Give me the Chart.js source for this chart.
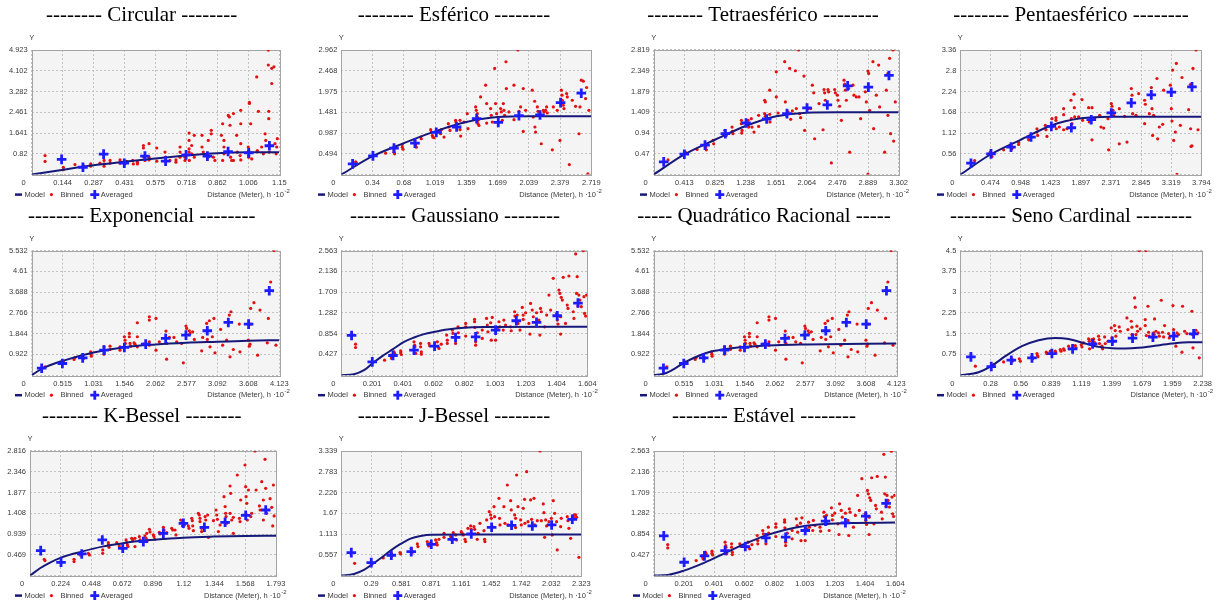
<!DOCTYPE html>
<html>
<head>
<meta charset="utf-8">
<script src="https://cdn.jsdelivr.net/npm/chart.js@4.4.1/dist/chart.umd.min.js"></script>
<style>
html, body { margin: 0; padding: 0; background: #fff; }
#page { position: relative; width: 1216px; height: 606px; overflow: hidden; }
#page canvas { position: absolute; }
</style>
</head>
<body>
<div id="page"></div>
<script>
// ---- data: [distance, gamma] ----

const circularXTicks = ['0','0.144','0.287','0.431','0.575','0.718','0.862','1.006','1.15']
const circularYTicks = ['0','0.82','1.641','2.461','3.282','4.102','4.923']
const circularAveraged = [[0.139,0.60],[0.238,0.29],[0.334,0.81],[0.430,0.45],[0.526,0.73],[0.622,0.53],[0.717,0.78],[0.816,0.73],[0.912,0.91],[1.008,0.86],[1.104,1.14]]
const circularModel = [[0,0],[0.139,0.185],[0.286,0.371],[0.429,0.503],[0.573,0.635],[0.717,0.754],[0.862,0.847],[1.006,0.887],[1.15,0.887]]
const circularBinned = [[0.062,0.75],[0.062,0.52],[0.147,0.29],[0.147,0.20],[0.201,0.40],[0.240,0.36],[0.240,0.29],[0.274,0.42],[0.274,0.33],[0.317,0.45],[0.336,0.56],[0.336,0.42],[0.336,0.33],[0.364,0.56],[0.364,0.45],[0.410,0.58],[0.410,0.45],[0.433,0.42],[0.441,0.52],[0.469,0.56],[0.472,0.42],[0.491,0.49],[0.491,0.42],[0.519,1.15],[0.519,1.05],[0.522,0.69],[0.526,0.56],[0.545,1.22],[0.545,0.69],[0.545,0.58],[0.581,1.05],[0.581,0.53],[0.619,0.89],[0.622,0.69],[0.622,0.56],[0.642,0.56],[0.670,0.58],[0.670,0.49],[0.689,1.09],[0.689,0.89],[0.689,0.69],[0.712,0.69],[0.712,0.56],[0.731,1.64],[0.731,1.35],[0.731,1.02],[0.731,0.89],[0.732,0.56],[0.743,1.15],[0.743,0.82],[0.755,1.55],[0.755,0.69],[0.791,1.09],[0.791,1.55],[0.797,0.89],[0.820,1.35],[0.820,0.69],[0.834,1.75],[0.834,1.61],[0.844,0.69],[0.851,0.56],[0.881,1.55],[0.887,2.01],[0.893,1.35],[0.893,1.09],[0.893,0.82],[0.887,0.56],[0.913,2.34],[0.918,2.28],[0.921,1.95],[0.924,0.69],[0.929,0.56],[0.937,2.41],[0.937,0.56],[0.952,1.55],[0.955,0.89],[0.971,2.54],[0.971,2.01],[0.971,1.22],[0.968,0.75],[0.971,0.58],[1.006,1.09],[1.008,0.95],[1.008,0.75],[1.008,0.69],[1.011,2.85],[1.011,2.81],[1.017,2.01],[1.022,0.62],[1.045,3.86],[1.053,2.50],[1.048,0.95],[1.068,1.09],[1.076,0.82],[1.084,1.61],[1.087,1.35],[1.099,4.92],[1.099,4.33],[1.101,2.50],[1.101,2.21],[1.104,0.89],[1.115,3.60],[1.115,4.20],[1.125,4.26],[1.130,1.22],[1.135,0.82],[1.138,1.09],[1.141,1.42]]

const esfericoXTicks = ['0','0.34','0.68','1.019','1.359','1.699','2.039','2.379','2.719']
const esfericoYTicks = ['0','0.494','0.987','1.481','1.975','2.468','2.962']
const esfericoAveraged = [[0.123,0.255],[0.344,0.446],[0.573,0.629],[0.801,0.748],[1.033,1.003],[1.254,1.131],[1.472,1.330],[1.707,1.242],[1.932,1.401],[2.161,1.417],[2.385,1.712],[2.610,1.935]]
const esfericoModel = [[0,0],[0.34,0.438],[0.68,0.748],[1.019,1.027],[1.359,1.250],[1.699,1.369],[2.039,1.385],[2.719,1.385]]
const esfericoBinned = [[0.156,0.303],[0.163,0.279],[0.482,0.510],[0.573,0.589],[0.573,0.533],[0.580,0.494],[0.663,0.717],[0.663,0.653],[0.671,0.605],[0.801,0.812],[0.808,0.717],[0.816,0.653],[0.863,0.892],[0.870,0.852],[0.972,1.067],[0.979,1.011],[0.990,0.932],[0.995,0.892],[1.008,0.876],[1.080,1.011],[1.080,0.971],[1.088,1.067],[1.117,0.892],[1.164,1.210],[1.171,1.131],[1.182,1.051],[1.243,1.290],[1.247,1.250],[1.254,1.194],[1.291,1.290],[1.291,1.067],[1.298,0.916],[1.334,1.250],[1.370,1.449],[1.378,1.091],[1.461,1.608],[1.468,1.529],[1.479,1.449],[1.479,1.369],[1.486,1.290],[1.486,1.210],[1.497,1.170],[1.515,1.847],[1.570,2.126],[1.581,1.688],[1.581,1.226],[1.624,1.569],[1.631,1.409],[1.642,1.250],[1.668,2.524],[1.678,1.688],[1.689,1.449],[1.733,1.569],[1.740,1.489],[1.751,1.290],[1.762,1.688],[1.769,1.529],[1.776,1.409],[1.791,2.683],[1.795,2.046],[1.823,1.489],[1.878,2.126],[1.878,1.306],[1.921,2.962],[1.932,1.505],[1.950,1.608],[1.979,2.046],[1.979,1.027],[2.005,1.529],[2.077,2.006],[2.088,1.369],[2.103,1.744],[2.106,1.131],[2.113,1.011],[2.132,1.608],[2.139,1.505],[2.150,1.433],[2.175,0.733],[2.197,1.529],[2.204,1.489],[2.222,1.529],[2.233,1.608],[2.240,1.465],[2.295,0.589],[2.306,1.608],[2.349,1.529],[2.378,0.812],[2.393,2.006],[2.400,1.887],[2.403,1.768],[2.414,1.648],[2.422,1.569],[2.451,1.927],[2.458,1.847],[2.480,0.239],[2.512,1.768],[2.548,1.624],[2.585,0.971],[2.596,1.608],[2.610,2.245],[2.632,2.221],[2.657,1.807],[2.668,2.070],[2.682,0.02],[2.693,1.529]]

const tetraXTicks = ['0','0.413','0.825','1.238','1.651','2.064','2.476','2.889','3.302']
const tetraYTicks = ['0','0.47','0.94','1.409','1.879','2.349','2.819']
const tetraAveraged = [[0.135,0.288],[0.413,0.462],[0.692,0.667],[0.966,0.925],[1.245,1.167],[1.523,1.258],[1.797,1.379],[2.067,1.508],[2.341,1.576],[2.615,2.008],[2.894,1.978],[3.172,2.243]]
const tetraModel = [[0,0],[0.413,0.455],[0.826,0.788],[1.240,1.099],[1.653,1.319],[2.062,1.402],[2.476,1.410],[3.302,1.410]]
const tetraBinned = [[0.193,0.333],[0.427,0.508],[0.584,0.568],[0.701,0.621],[0.710,0.561],[0.800,0.773],[0.809,0.697],[0.957,1.000],[0.966,0.955],[0.979,0.887],[1.056,1.076],[1.060,0.978],[1.069,0.925],[1.182,1.228],[1.182,1.152],[1.191,1.000],[1.186,0.940],[1.272,1.228],[1.272,1.152],[1.281,1.076],[1.316,1.266],[1.325,1.076],[1.352,0.962],[1.415,1.341],[1.415,1.091],[1.496,1.682],[1.505,1.644],[1.496,1.379],[1.505,1.319],[1.564,1.910],[1.564,1.364],[1.568,1.190],[1.653,2.326],[1.653,1.758],[1.676,1.394],[1.766,2.554],[1.775,1.644],[1.788,1.341],[1.811,1.417],[1.833,2.402],[1.847,1.250],[1.869,1.440],[1.910,2.349],[1.923,1.493],[1.954,2.819],[1.968,1.379],[1.981,1.288],[2.026,2.228],[2.035,1.000],[2.080,1.493],[2.116,1.493],[2.139,2.023],[2.157,1.849],[2.170,0.811],[2.229,1.607],[2.283,1.015],[2.296,1.925],[2.305,1.849],[2.314,1.682],[2.350,1.925],[2.359,1.872],[2.395,0.265],[2.440,1.925],[2.449,1.849],[2.476,1.796],[2.485,1.682],[2.507,1.546],[2.530,1.228],[2.566,2.137],[2.575,2.046],[2.584,1.910],[2.597,1.682],[2.629,1.948],[2.642,0.508],[2.687,2.023],[2.700,1.796],[2.732,1.758],[2.768,1.758],[2.790,1.266],[2.853,1.872],[2.867,1.644],[2.889,2.342],[2.898,2.289],[2.911,1.455],[2.889,0.01],[2.956,2.554],[2.965,1.038],[3.001,1.796],[3.033,2.478],[3.046,1.531],[3.114,0.508],[3.136,1.910],[3.158,2.289],[3.158,1.341],[3.181,2.630],[3.194,0.925],[3.226,2.819],[3.235,0.758],[3.257,1.644]]

const pentaXTicks = ['0','0.474','0.948','1.423','1.897','2.371','2.845','3.319','3.794']
const pentaYTicks = ['0','0.56','1.12','1.68','2.24','2.8','3.36']
const pentaAveraged = [[0.168,0.307],[0.483,0.560],[0.798,0.741],[1.113,1.012],[1.433,1.301],[1.748,1.264],[2.062,1.481],[2.377,1.662],[2.692,1.933],[3.007,2.150],[3.322,2.222],[3.647,2.366]]
const pentaModel = [[0,0],[0.474,0.542],[0.948,0.939],[1.423,1.319],[1.897,1.517],[2.371,1.563],[3.794,1.563]]
const pentaBinned = [[0.226,0.379],[0.472,0.605],[0.499,0.488],[0.682,0.668],[0.798,0.786],[0.813,0.695],[0.918,0.876],[0.918,0.813],[1.065,1.012],[1.076,0.939],[1.207,1.237],[1.207,1.147],[1.218,1.057],[1.338,1.328],[1.349,1.210],[1.364,1.030],[1.443,1.508],[1.443,1.283],[1.506,1.535],[1.506,1.463],[1.511,1.237],[1.559,1.283],[1.627,1.779],[1.627,1.617],[1.627,1.210],[1.679,1.237],[1.742,2.005],[1.748,1.508],[1.758,1.373],[1.790,2.168],[1.795,1.806],[1.800,1.554],[1.863,1.554],[1.916,2.023],[1.926,1.463],[2.020,1.806],[2.031,1.418],[2.073,1.806],[2.073,0.939],[2.115,1.508],[2.194,1.599],[2.215,1.283],[2.257,1.255],[2.325,1.508],[2.335,0.668],[2.377,1.915],[2.388,1.843],[2.404,1.734],[2.414,1.599],[2.503,1.779],[2.503,0.831],[2.587,1.572],[2.624,0.876],[2.692,2.321],[2.703,2.141],[2.713,1.644],[2.766,1.599],[2.808,2.186],[2.902,2.005],[2.913,1.897],[2.902,1.373],[2.976,1.644],[3.007,2.348],[3.018,1.779],[3.028,1.057],[3.044,1.599],[3.096,2.592],[3.107,0.966],[3.133,1.283],[3.186,1.355],[3.201,2.276],[3.306,2.412],[3.322,1.779],[3.332,1.445],[3.343,2.818],[3.359,0.921],[3.385,1.147],[3.401,2.999],[3.411,0.01],[3.464,1.328],[3.490,2.619],[3.595,1.752],[3.621,2.430],[3.626,1.237],[3.632,0.759],[3.647,0.777],[3.663,2.863],[3.710,3.360],[3.742,1.210]]

// Exponencial and Quadrático Racional share the same empirical points
const expXTicks = ['0','0.515','1.031','1.546','2.062','2.577','3.092','3.608','4.123']
const expYTicks = ['0','0.922','1.844','2.766','3.688','4.61','5.532']
const expAveraged = [[0.166,0.311],[0.511,0.519],[0.849,0.771],[1.204,1.112],[1.543,1.231],[1.898,1.379],[2.231,1.631],[2.569,1.780],[2.924,1.973],[3.274,2.343],[3.612,2.269],[3.956,3.752]]
const expModel = [[0,0],[0.166,0.282],[0.515,0.638],[1.031,1.009],[1.546,1.246],[2.062,1.364],[2.577,1.439],[3.092,1.483],[3.608,1.528],[4.123,1.557]]
const quadModel = [[0,0],[0.187,0.074],[0.357,0.297],[0.515,0.549],[0.697,0.786],[0.866,0.964],[1.036,1.083],[1.291,1.186],[1.557,1.261],[2.073,1.335],[2.588,1.364],[3.613,1.394],[4.123,1.409]]
const expBinned = [[0.222,0.371],[0.527,0.593],[0.538,0.519],[0.705,0.697],[0.721,0.786],[0.849,0.845],[0.860,0.727],[0.982,1.038],[0.988,0.934],[0.993,0.845],[1.204,1.261],[1.204,0.934],[1.210,0.994],[1.304,1.290],[1.304,1.142],[1.470,1.261],[1.470,1.112],[1.543,1.706],[1.554,1.557],[1.559,1.409],[1.626,1.854],[1.626,1.706],[1.637,1.409],[1.648,1.290],[1.704,1.439],[1.720,1.379],[1.759,2.328],[1.759,1.706],[1.759,1.261],[1.859,1.379],[1.959,2.595],[1.959,2.447],[1.959,1.483],[1.959,1.335],[2.070,2.521],[2.070,1.112],[2.125,1.483],[2.236,1.958],[2.247,1.409],[2.247,0.712],[2.292,1.676],[2.369,1.676],[2.414,1.483],[2.497,1.409],[2.525,0.549],[2.569,2.180],[2.580,2.076],[2.625,1.973],[2.636,1.854],[2.680,1.928],[2.708,1.587],[2.830,1.083],[2.847,1.676],[2.913,2.299],[2.924,1.587],[2.958,2.417],[2.969,1.261],[3.008,1.706],[3.035,2.521],[3.052,0.994],[3.146,2.032],[3.180,1.335],[3.246,1.557],[3.291,2.670],[3.302,0.816],[3.318,2.818],[3.357,1.142],[3.457,2.269],[3.468,1.038],[3.607,1.557],[3.623,1.290],[3.635,1.379],[3.646,2.966],[3.651,2.269],[3.701,3.218],[3.762,0.890],[3.801,2.892],[3.940,2.521],[3.923,1.439],[3.979,4.138],[4.034,5.532],[4.067,1.335]]

// Gaussiano and Estável share the same empirical points
const gaussXTicks = ['0','0.201','0.401','0.602','0.802','1.003','1.203','1.404','1.604']
const gaussYTicks = ['0','0.427','0.854','1.282','1.709','2.136','2.563']
const gaussAveraged = [[0.067,0.818],[0.202,0.275],[0.337,0.405],[0.474,0.515],[0.608,0.598],[0.745,0.776],[0.876,0.790],[1.006,0.928],[1.141,1.120],[1.273,1.086],[1.408,1.223],[1.543,1.484]]
const gaussModel = [[0,0],[0.083,0.021],[0.148,0.103],[0.202,0.240],[0.267,0.392],[0.337,0.536],[0.409,0.687],[0.474,0.776],[0.539,0.845],[0.608,0.893],[0.691,0.941],[0.800,0.976],[0.930,0.989],[1.604,0.996]]
const estavelModel = [[0,0],[0.095,0.014],[0.201,0.103],[0.338,0.267],[0.471,0.459],[0.604,0.651],[0.737,0.816],[0.869,0.939],[1.002,1.021],[1.135,1.062],[1.290,1.083],[1.604,1.090]]
const gaussBinned = [[0.093,0.639],[0.093,0.570],[0.282,0.309],[0.322,0.412],[0.326,0.378],[0.328,0.344],[0.343,0.481],[0.348,0.447],[0.387,0.502],[0.387,0.460],[0.391,0.426],[0.474,0.687],[0.478,0.618],[0.480,0.584],[0.485,0.447],[0.517,0.653],[0.517,0.584],[0.522,0.481],[0.522,0.433],[0.572,0.653],[0.576,0.605],[0.626,0.687],[0.630,0.584],[0.637,0.550],[0.652,0.639],[0.687,0.825],[0.691,0.721],[0.691,0.653],[0.724,0.928],[0.728,0.859],[0.745,0.653],[0.761,0.996],[0.763,0.873],[0.811,1.065],[0.811,0.996],[0.811,0.804],[0.869,1.147],[0.869,1.099],[0.871,0.983],[0.876,0.687],[0.876,0.618],[0.887,0.873],[0.919,0.928],[0.919,0.756],[0.947,1.168],[0.952,1.031],[0.956,0.893],[0.974,1.079],[0.978,0.721],[0.984,1.189],[1.006,0.721],[1.017,0.962],[1.028,1.099],[1.034,0.996],[1.060,1.134],[1.056,0.928],[1.071,1.031],[1.104,0.996],[1.108,0.914],[1.130,1.305],[1.132,1.216],[1.147,1.237],[1.152,1.065],[1.165,0.928],[1.180,1.395],[1.186,1.237],[1.186,1.147],[1.202,1.285],[1.223,1.065],[1.230,0.845],[1.234,1.477],[1.245,1.340],[1.252,1.202],[1.273,1.285],[1.289,1.134],[1.295,0.825],[1.299,1.374],[1.304,1.305],[1.326,0.996],[1.339,1.237],[1.354,1.649],[1.365,1.340],[1.382,1.993],[1.404,1.271],[1.408,1.134],[1.413,1.051],[1.419,1.752],[1.425,1.683],[1.430,1.202],[1.430,0.845],[1.434,1.601],[1.441,1.546],[1.447,2.013],[1.462,1.065],[1.473,1.443],[1.478,1.374],[1.484,2.041],[1.512,1.305],[1.517,1.168],[1.528,2.494],[1.534,1.683],[1.538,2.027],[1.543,1.422],[1.549,1.649],[1.556,1.546],[1.565,1.409],[1.578,2.56],[1.582,1.615],[1.586,1.271],[1.593,1.216],[1.599,1.649]]

const senoXTicks = ['0','0.28','0.56','0.839','1.119','1.399','1.679','1.959','2.238']
const senoYTicks = ['0','0.75','1.5','2.25','3','3.75','4.5']
const senoAveraged = [[0.098,0.662],[0.286,0.313],[0.471,0.541],[0.662,0.626],[0.846,0.782],[1.037,0.951],[1.222,1.131],[1.404,1.227],[1.591,1.336],[1.779,1.372],[1.970,1.408],[2.155,1.492]]
const senoModel = [[0,0],[0.169,0.108],[0.286,0.325],[0.416,0.686],[0.569,1.047],[0.723,1.263],[0.877,1.348],[1.000,1.311],[1.154,1.143],[1.277,1.023],[1.400,0.975],[1.524,0.963],[1.647,0.987],[1.770,1.047],[1.955,1.143],[2.108,1.191],[2.238,1.191]]
const senoBinned = [[0.139,0.325],[0.308,0.385],[0.400,0.481],[0.477,0.590],[0.483,0.517],[0.545,0.590],[0.554,0.505],[0.662,0.686],[0.668,0.590],[0.708,0.782],[0.714,0.710],[0.717,0.662],[0.794,0.830],[0.800,0.782],[0.831,0.866],[0.840,0.806],[0.877,0.866],[0.883,0.806],[0.923,0.926],[0.930,0.866],[0.954,0.951],[0.960,0.902],[1.000,1.047],[1.006,0.951],[1.062,1.071],[1.068,0.987],[1.117,1.107],[1.123,1.023],[1.139,1.167],[1.185,1.311],[1.191,1.227],[1.194,0.951],[1.216,1.287],[1.231,1.311],[1.237,1.191],[1.277,1.408],[1.283,1.287],[1.286,1.143],[1.308,1.047],[1.314,0.951],[1.333,1.384],[1.339,1.143],[1.364,1.227],[1.394,1.709],[1.400,1.348],[1.407,1.191],[1.425,1.793],[1.431,1.612],[1.437,1.408],[1.468,1.745],[1.477,1.588],[1.539,2.070],[1.548,1.648],[1.579,1.949],[1.585,1.733],[1.585,1.468],[1.610,2.791],[1.616,2.455],[1.622,1.468],[1.631,1.769],[1.637,1.588],[1.653,4.5],[1.662,1.672],[1.708,2.009],[1.708,1.793],[1.714,4.5],[1.718,1.432],[1.733,2.491],[1.739,1.552],[1.745,1.408],[1.785,1.528],[1.791,1.468],[1.794,2.033],[1.807,1.588],[1.831,1.528],[1.838,1.408],[1.856,2.707],[1.868,1.552],[1.878,1.384],[1.887,1.793],[1.924,1.504],[1.930,1.348],[1.964,2.515],[1.970,1.648],[1.976,1.468],[1.991,1.047],[2.001,1.528],[2.016,1.468],[2.047,0.830],[2.053,2.491],[2.072,1.588],[2.093,1.504],[2.139,2.310],[2.145,1.468],[2.149,0.987],[2.164,1.552],[2.176,1.624],[2.195,1.528],[2.207,0.626]]

const kbesselXTicks = ['0','0.224','0.448','0.672','0.896','1.12','1.344','1.568','1.793']
const kbesselYTicks = ['0','0.469','0.939','1.408','1.877','2.346','2.816']
const kbesselAveraged = [[0.078,0.565],[0.226,0.301],[0.377,0.489],[0.527,0.806],[0.676,0.617],[0.826,0.768],[0.972,0.956],[1.118,1.182],[1.271,1.092],[1.422,1.205],[1.572,1.363],[1.718,1.483]]
const kbesselModel = [[0,0],[0.073,0.166],[0.146,0.294],[0.226,0.407],[0.377,0.542],[0.527,0.655],[0.676,0.730],[0.826,0.791],[0.972,0.828],[1.118,0.858],[1.337,0.881],[1.570,0.896],[1.793,0.903]]
const kbesselBinned = [[0.104,0.369],[0.109,0.339],[0.321,0.369],[0.321,0.316],[0.365,0.467],[0.425,0.504],[0.433,0.467],[0.530,0.580],[0.530,0.504],[0.571,0.745],[0.571,0.693],[0.576,0.640],[0.632,0.745],[0.651,0.670],[0.700,0.806],[0.705,0.745],[0.710,0.693],[0.714,0.655],[0.741,0.843],[0.748,0.806],[0.765,0.843],[0.765,0.655],[0.797,0.881],[0.802,0.806],[0.838,0.896],[0.846,0.843],[0.851,0.768],[0.851,0.956],[0.870,1.047],[0.875,0.986],[0.899,0.919],[0.904,0.881],[0.909,0.821],[0.943,0.979],[0.948,0.941],[0.972,1.092],[0.977,1.031],[0.996,0.971],[1.033,1.069],[1.040,1.031],[1.057,1.031],[1.064,0.919],[1.098,1.257],[1.106,1.197],[1.111,1.122],[1.125,1.144],[1.154,1.122],[1.159,1.069],[1.179,1.295],[1.183,1.242],[1.186,1.122],[1.191,1.016],[1.227,1.408],[1.234,1.370],[1.239,1.295],[1.239,1.220],[1.251,1.069],[1.251,0.994],[1.276,1.333],[1.281,1.257],[1.295,1.370],[1.300,0.866],[1.337,1.242],[1.356,1.483],[1.361,1.370],[1.366,1.272],[1.373,0.994],[1.385,1.144],[1.414,1.784],[1.422,1.559],[1.426,1.408],[1.429,1.333],[1.434,1.182],[1.458,2.025],[1.458,1.408],[1.463,1.860],[1.470,1.257],[1.482,0.956],[1.482,1.318],[1.511,2.274],[1.526,1.295],[1.531,1.220],[1.536,1.709],[1.567,2.500],[1.572,2.010],[1.575,1.784],[1.580,1.634],[1.584,1.257],[1.592,1.935],[1.609,1.333],[1.616,1.408],[1.640,2.816],[1.648,1.935],[1.672,1.574],[1.677,1.483],[1.689,2.123],[1.701,1.257],[1.701,1.709],[1.713,2.628],[1.718,1.973],[1.725,1.408],[1.750,1.739],[1.762,1.543],[1.769,1.122],[1.774,2.048],[1.779,1.348]]

const jbesselXTicks = ['0','0.29','0.581','0.871','1.161','1.452','1.742','2.032','2.323']
const jbesselYTicks = ['0','0.557','1.113','1.67','2.226','2.783','3.339']
const jbesselAveraged = [[0.097,0.616],[0.290,0.348],[0.484,0.545],[0.677,0.643],[0.871,0.839],[1.074,0.973],[1.258,1.116],[1.455,1.295],[1.648,1.348],[1.849,1.330],[2.036,1.357],[2.236,1.509]]
const jbesselModel = [[0,0],[0.123,0.045],[0.219,0.152],[0.290,0.286],[0.381,0.464],[0.477,0.670],[0.574,0.848],[0.671,0.991],[0.768,1.062],[0.871,1.095],[1.2,1.10],[2.323,1.10]]
const jbesselBinned = [[0.129,0.330],[0.406,0.473],[0.484,0.598],[0.487,0.509],[0.568,0.616],[0.574,0.580],[0.677,0.732],[0.681,0.670],[0.687,0.616],[0.736,0.848],[0.742,0.777],[0.832,0.911],[0.839,0.848],[0.845,0.795],[0.865,0.884],[0.913,0.955],[0.923,0.884],[0.929,0.821],[0.945,0.973],[0.994,1.134],[0.994,1.027],[1.058,1.045],[1.065,0.973],[1.084,1.152],[1.107,1.089],[1.116,0.955],[1.161,1.178],[1.171,1.134],[1.181,1.089],[1.197,0.973],[1.203,0.911],[1.226,1.268],[1.252,1.330],[1.258,1.241],[1.284,1.312],[1.291,1.241],[1.316,0.973],[1.323,1.134],[1.342,1.402],[1.381,1.205],[1.387,0.973],[1.390,0.911],[1.407,1.491],[1.432,1.714],[1.445,1.625],[1.452,1.536],[1.461,1.312],[1.478,1.848],[1.484,1.580],[1.526,2.071],[1.532,1.536],[1.536,1.357],[1.574,1.848],[1.584,1.402],[1.607,2.428],[1.613,1.357],[1.639,2.009],[1.645,1.759],[1.678,1.625],[1.687,1.536],[1.687,1.286],[1.697,2.696],[1.710,1.848],[1.736,1.491],[1.742,1.357],[1.761,1.803],[1.774,2.045],[1.777,1.402],[1.794,2.786],[1.807,1.446],[1.832,2.027],[1.842,1.509],[1.865,2.071],[1.871,1.357],[1.897,1.473],[1.923,3.339],[1.936,1.473],[1.955,1.920],[1.961,1.687],[1.968,1.027],[1.978,1.491],[1.987,1.330],[2.010,1.446],[2.033,1.536],[2.042,1.089],[2.052,2.009],[2.065,1.670],[2.084,1.446],[2.090,0.687],[2.123,1.312],[2.129,1.536],[2.187,1.580],[2.194,1.473],[2.203,1.268],[2.220,1.000],[2.245,1.598],[2.252,1.536],[2.258,1.625],[2.268,1.625],[2.278,1.562],[2.300,0.491]]

const panelTitles = ['-------- Circular --------', '-------- Esférico --------', '-------- Tetraesférico --------', '-------- Pentaesférico --------', '-------- Exponencial --------', '-------- Gaussiano --------', '----- Quadrático Racional -----', '-------- Seno Cardinal --------', '-------- K-Bessel --------', '-------- J-Bessel --------', '-------- Estável --------']

// ---- styling / layout ----
const NAVY = '#17197a'
const RED = '#e31212'
const BLUE = '#1c1cff'
const GRID = '#c2c2c2'
const INK = '#3a3a3a'
const SANS = '"Liberation Sans", Arial, sans-serif'
const PANEL_W = 304, PANEL_H = 200

const series = [
	[circularXTicks, circularYTicks, circularBinned, circularAveraged, circularModel],
	[esfericoXTicks, esfericoYTicks, esfericoBinned, esfericoAveraged, esfericoModel],
	[tetraXTicks, tetraYTicks, tetraBinned, tetraAveraged, tetraModel],
	[pentaXTicks, pentaYTicks, pentaBinned, pentaAveraged, pentaModel],
	[expXTicks, expYTicks, expBinned, expAveraged, expModel],
	[gaussXTicks, gaussYTicks, gaussBinned, gaussAveraged, gaussModel],
	[expXTicks, expYTicks, expBinned, expAveraged, quadModel],
	[senoXTicks, senoYTicks, senoBinned, senoAveraged, senoModel],
	[kbesselXTicks, kbesselYTicks, kbesselBinned, kbesselAveraged, kbesselModel],
	[jbesselXTicks, jbesselYTicks, jbesselBinned, jbesselAveraged, jbesselModel],
	[gaussXTicks, gaussYTicks, gaussBinned, gaussAveraged, estavelModel]
]

// plot box inside each 304x200 panel
const frames = [
	{col: 0, row: 0, left: 31.7, right: 279.3, titleX: 141.7, legendX: 15},
	{col: 1, row: 0, left: 37.3, right: 287.3, titleX: 150, legendX: 14},
	{col: 2, row: 0, left: 45.7, right: 290.7, titleX: 155, legendX: 32},
	{col: 3, row: 0, left: 48.3, right: 289.3, titleX: 159, legendX: 25},
	{col: 0, row: 1, left: 31.7, right: 279.3, titleX: 141.7, legendX: 15},
	{col: 1, row: 1, left: 37.3, right: 283.3, titleX: 151, legendX: 14},
	{col: 2, row: 1, left: 45.7, right: 288.3, titleX: 156, legendX: 32},
	{col: 3, row: 1, left: 48.3, right: 290.7, titleX: 159, legendX: 25},
	{col: 0, row: 2, left: 30, right: 276, titleX: 141.7, legendX: 15},
	{col: 1, row: 2, left: 37.3, right: 277.3, titleX: 150, legendX: 14},
	{col: 2, row: 2, left: 45.7, right: 287.3, titleX: 156, legendX: 25}
]
const rowTop = [50, 50.6, 51]
const plotH = 124.6

const toXY = arr => arr.map(([x, y]) => ({x, y}))

function decor(title, f) {
	return {
		id: 'decor',
		beforeDraw(chart) {
			const {ctx, chartArea: a} = chart
			ctx.save()
			ctx.fillStyle = '#f4f4f4'
			ctx.fillRect(a.left, a.top, a.right - a.left, a.bottom - a.top)
			ctx.restore()
		},
		beforeDatasetsDraw(chart) {
			const {ctx, chartArea: a} = chart
			ctx.save()
			ctx.strokeStyle = '#a4a4a4'
			ctx.lineWidth = 1
			ctx.strokeRect(Math.round(a.left) + 0.5, Math.round(a.top) + 0.5, Math.round(a.right - a.left), Math.round(a.bottom - a.top))
			ctx.restore()
		},
		afterDraw(chart) {
			const {ctx, chartArea: a} = chart
			ctx.save()
			// panel title
			ctx.fillStyle = '#000'
			ctx.font = '21px "Liberation Serif", "Times New Roman", serif'
			ctx.textAlign = 'center'
			ctx.textBaseline = 'alphabetic'
			ctx.fillText(title, f.titleX, 21 + f.row * 0.5)

			ctx.font = '7.5px ' + SANS
			ctx.fillStyle = INK
			ctx.textBaseline = 'middle'
			ctx.fillText('Y', a.left, a.top - 12)
			ctx.fillText('0', a.left - 8, a.bottom + 8.7)

			// legend row
			const y = a.bottom + 20
			let x = f.legendX
			ctx.strokeStyle = NAVY
			ctx.lineWidth = 2.5
			ctx.beginPath(); ctx.moveTo(x, y); ctx.lineTo(x + 7, y); ctx.stroke()
			x += 9.5
			ctx.textAlign = 'left'
			ctx.fillText('Model', x, y)
			x += ctx.measureText('Model').width + 6.5
			ctx.fillStyle = RED
			ctx.beginPath(); ctx.arc(x, y, 1.6, 0, Math.PI * 2); ctx.fill()
			x += 9
			ctx.fillStyle = INK
			ctx.fillText('Binned', x, y)
			x += ctx.measureText('Binned').width + 11
			ctx.strokeStyle = BLUE
			ctx.lineWidth = 2.8
			ctx.beginPath(); ctx.moveTo(x - 4.5, y); ctx.lineTo(x + 4.5, y); ctx.moveTo(x, y - 4.5); ctx.lineTo(x, y + 4.5); ctx.stroke()
			x += 6
			ctx.fillText('Averaged', x, y)

			// distance label with superscript exponent
			const xEnd = a.right + 10.5
			ctx.textAlign = 'right'
			ctx.font = '6px ' + SANS
			ctx.fillText('-2', xEnd, y - 3.5)
			const w2 = ctx.measureText('-2').width
			ctx.font = '7.5px ' + SANS
			ctx.fillText('Distance (Meter), h \u00b710', xEnd - w2 - 0.5, y)
			ctx.restore()
		}
	}
}

const page = document.getElementById('page')

frames.forEach((f, i) => {
	const [xTicks, yTicks, binned, averaged, model] = series[i]
	const xmax = parseFloat(xTicks[xTicks.length - 1])
	const ymax = parseFloat(yTicks[yTicks.length - 1])

	const canvas = document.createElement('canvas')
	canvas.width = PANEL_W
	canvas.height = PANEL_H
	canvas.style.left = (f.col * PANEL_W) + 'px'
	canvas.style.top = (f.row * 200) + 'px'
	page.appendChild(canvas)

	const top = rowTop[f.row]
	const bottom = top + plotH
	const tickFont = {family: SANS, size: 7.5}

	new Chart(canvas, {
		type: 'scatter',
		data: {
			datasets: [
				{
					label: 'Averaged',
					data: toXY(averaged),
					pointStyle: 'cross',
					pointRadius: 4.8,
					borderColor: BLUE,
					borderWidth: 2.8,
					order: 1
				},
				{
					label: 'Model',
					type: 'line',
					data: toXY(model),
					borderColor: NAVY,
					borderWidth: 2,
					pointRadius: 0,
					cubicInterpolationMode: 'monotone',
					fill: false,
					order: 2
				},
				{
					label: 'Binned',
					data: toXY(binned),
					pointStyle: 'circle',
					pointRadius: 1.6,
					backgroundColor: RED,
					borderWidth: 0,
					order: 3
				}
			]
		},
		options: {
			responsive: false,
			animation: false,
			events: [],
			layout: {padding: {left: 0, top: top, right: PANEL_W - f.right, bottom: PANEL_H - bottom - 12}},
			plugins: {legend: {display: false}, tooltip: {enabled: false}},
			scales: {
				x: {
					type: 'linear',
					min: 0,
					max: xmax,
					afterFit: s => { s.height = 12 },
					afterBuildTicks: s => { s.ticks = xTicks.map((t, k) => ({value: k * xmax / (xTicks.length - 1)})) },
					ticks: {
						callback: (v, k) => k === 0 ? '' : xTicks[k],
						font: tickFont,
						color: INK,
						padding: 4,
						maxRotation: 0,
						autoSkip: false
					},
					grid: {color: GRID, lineWidth: 1, drawTicks: false},
					border: {display: false, dash: [2, 2]}
				},
				y: {
					type: 'linear',
					min: 0,
					max: ymax,
					afterFit: s => { s.width = f.left },
					afterBuildTicks: s => { s.ticks = yTicks.map((t, k) => ({value: k * ymax / (yTicks.length - 1)})) },
					ticks: {
						callback: (v, k) => k === 0 ? '' : yTicks[k],
						font: tickFont,
						color: INK,
						padding: 4,
						autoSkip: false
					},
					grid: {color: GRID, lineWidth: 1, drawTicks: false},
					border: {display: false, dash: [2, 2]}
				}
			}
		},
		plugins: [decor(panelTitles[i], f)]
	})
})
</script>
</body>
</html>
